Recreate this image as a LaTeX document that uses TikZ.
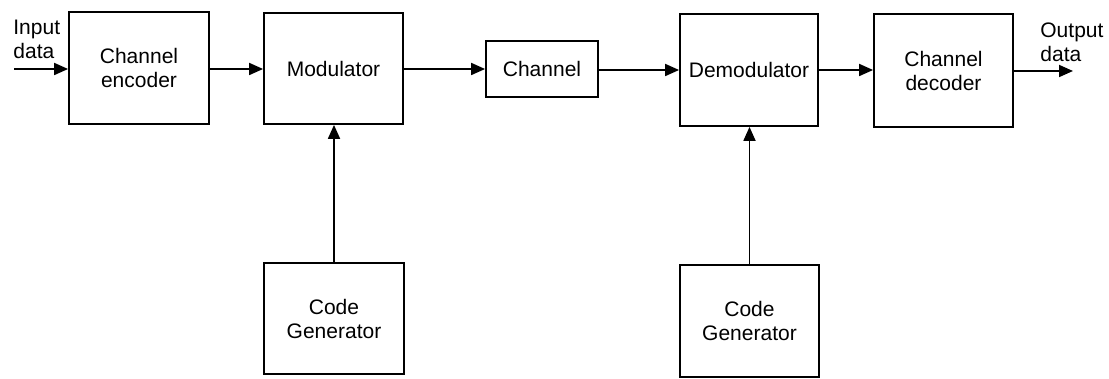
\documentclass[tikz,border=0pt]{standalone}
\usepackage{fontspec}
\setmainfont{Liberation Sans}
\usepackage{tikz}
\usetikzlibrary{arrows.meta}

\tikzset{
  blk/.style={draw, line width=0.9pt, align=center, inner sep=0pt,
    font=\fontsize{10.5}{12}\selectfont},
  sig/.style={line width=0.9pt, -{Triangle[length=7pt,width=6pt]}}
}

\begin{document}
\begin{tikzpicture}[x=0.5pt,y=-0.5pt]
\useasboundingbox (0,0) rectangle (1109,379);

% top row
\node[blk, minimum width=70pt, minimum height=56pt] (enc) at (139,68) {Channel\\encoder};
\node[blk, minimum width=69.5pt, minimum height=55.5pt] (mod) at (333.5,68.5) {Modulator};
\node[blk, minimum width=56pt, minimum height=28pt] (chan) at (542,69) {Channel};
\node[blk, minimum width=69pt, minimum height=56pt] (demod) at (749,70) {Demodulator};
\node[blk, minimum width=69.5pt, minimum height=56.5pt] (dec) at (943.5,70.5) {Channel\\decoder};

% code generators
\node[blk, minimum width=70pt, minimum height=55.5pt] (gen1) at (334,318.5) {Code\\Generator};
\node[blk, minimum width=69.5pt, minimum height=56pt] (gen2) at (749.5,321) {Code\\Generator};

% input / output
\node[align=left, anchor=north west, inner sep=0pt, font=\fontsize{10.5}{12}\selectfont] (inlbl) at (13,20) {Input\\data};
\node[align=left, anchor=north west, inner sep=0pt, font=\fontsize{10.5}{12}\selectfont] (outlbl) at (1040,22) {Output\\data};
\coordinate (in) at (14,69);
\coordinate (out) at (1073,71);

\draw[sig] (in) -- (in -| enc.west);
\draw[sig] (enc.east |- 0,69) -- (mod.west |- 0,69);
\draw[sig] (mod.east |- 0,69) -- (chan.west |- 0,69);
\draw[sig] (chan.east |- 0,70) -- (demod.west |- 0,70);
\draw[sig] (demod.east |- 0,70) -- (dec.west |- 0,70);
\draw[sig] (dec.east |- out) -- (out);

\draw[sig] (gen1.north) -- (mod.south -| gen1.north);
\draw[sig] (gen2.north) -- (demod.south -| gen2.north);
\end{tikzpicture}
\end{document}
